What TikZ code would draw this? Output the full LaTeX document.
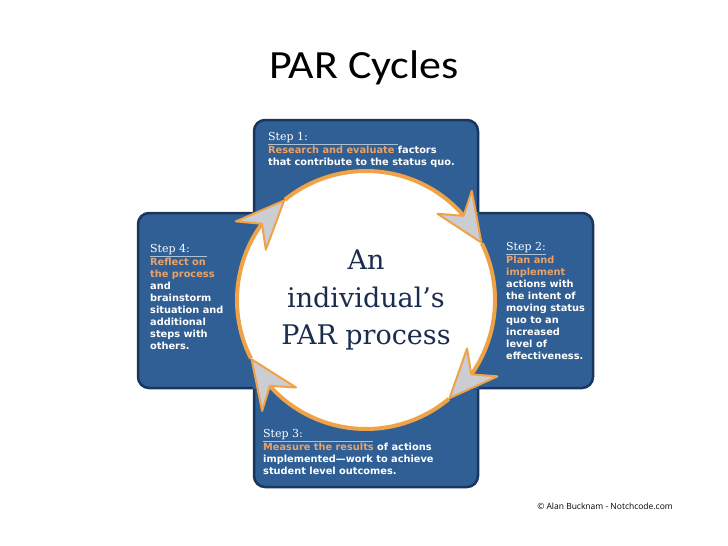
\documentclass[tikz,border=0pt]{standalone}
\usepackage{fontspec}
\setmainfont{DejaVu Serif}
\newfontfamily\titlefont{Carlito}
\newfontfamily\stepfont{DejaVu Sans}
\newfontfamily\notefont{Open Sans}
\usepackage{tikz}
\usetikzlibrary{arrows.meta,bending,positioning}

\definecolor{boxblue}{HTML}{2F5F95}
\definecolor{boxedge}{HTML}{1A355E}
\definecolor{ringorange}{HTML}{F0A346}
\definecolor{headgray}{HTML}{CBCDD2}
\definecolor{hubnavy}{HTML}{1B2D4F}
\definecolor{steporange}{HTML}{E9A36A}
\definecolor{linegray}{HTML}{A9C2D8}

\begin{document}
\begin{tikzpicture}[
    x=1pt, y=1pt,
    panel/.style={fill=boxblue, draw=boxedge, line width=2.5pt, rounded corners=11pt},
    hub/.style={circle, fill=white, minimum size=258pt, inner sep=0pt, outer sep=0pt,
      align=center, text=hubnavy, font=\fontsize{27}{37.5}\selectfont},
    stepname/.style={anchor=base west, inner sep=0pt, text=white, font=\fontsize{11}{13}\selectfont},
    steptext/.style={inner sep=0pt, align=left, text=white,
      font=\stepfont\bfseries\fontsize{9.8}{12}\selectfont},
    stepline/.style={draw=linegray, line width=0.8pt},
    ringarrow/.style={draw=ringorange, line width=4pt,
      -{Stealth[length=54pt, width=46pt, inset=18pt, fill=headgray, line width=2pt, round]}}
  ]
  \useasboundingbox[fill=white] (0,0) rectangle (728,-546);

  % Title
  \node[font=\titlefont\fontsize{40}{42}\selectfont, anchor=base west, inner sep=0pt] (title) at (269,-78)
    {\scalebox{1.1}[1]{PAR Cycles}};

  % Cross of panels
  \draw[panel] (254,-120) rectangle (478,-487);
  \draw[panel] (138,-213) rectangle (593,-388);
  \fill[boxblue] (252.8,-211.8) rectangle (479.2,-389.2);

  % Hub
  \node[hub] (cyc) at (366,-300) {An\\individual’s\\PAR process};

  % Cycle arrows
  \draw[ringarrow] (cyc.129) arc[start angle=129, end angle=26, radius=129pt];
  \draw[ringarrow] (cyc.26) arc[start angle=26, end angle=-50, radius=129pt];
  \draw[ringarrow] (cyc.-50) arc[start angle=-50, end angle=-153, radius=129pt];
  \draw[ringarrow] (cyc.207) arc[start angle=207, end angle=129, radius=129pt];

  % Step 1
  \node[stepname] (s1) at (268,-140) {Step 1:};
  \draw[stepline] ([yshift=-4pt]s1.base west) -- ++(130,0);
  \node[steptext, below=3.5pt of s1.south west, anchor=north west] (b1)
    {\textcolor{steporange}{Research and evaluate} factors\\that contribute to the status quo.};

  % Step 2
  \node[stepname] (s2) at (506,-250) {Step 2:};
  \draw[stepline] ([yshift=-4pt]s2.base west) -- ++(40,0);
  \node[steptext, below=3pt of s2.south west, anchor=north west] (b2)
    {\textcolor{steporange}{Plan and}\\\textcolor{steporange}{implement}\\actions with\\the intent of\\moving status\\quo to an\\increased\\level of\\effectiveness.};

  % Step 3
  \node[stepname] (s3) at (263,-437) {Step 3:};
  \draw[stepline] ([yshift=-4pt]s3.base west) -- ++(110,0);
  \node[steptext, below=3.5pt of s3.south west, anchor=north west] (b3)
    {\textcolor{steporange}{Measure the results} of actions\\implemented—work to achieve\\student level outcomes.};

  % Step 4
  \node[stepname] (s4) at (150,-252) {Step 4:};
  \draw[stepline] ([yshift=-4pt]s4.base west) -- ++(57,0);
  \node[steptext, below=3pt of s4.south west, anchor=north west] (b4)
    {\textcolor{steporange}{Reflect on}\\\textcolor{steporange}{the process}\\and\\brainstorm\\situation and\\additional\\steps with\\others.};

  % Credit
  \node[font=\notefont\fontsize{8.5}{9}\selectfont, anchor=base east, inner sep=0pt] (credit) at (673,-509) {© Alan Bucknam - Notchcode.com};

\end{tikzpicture}
\end{document}
